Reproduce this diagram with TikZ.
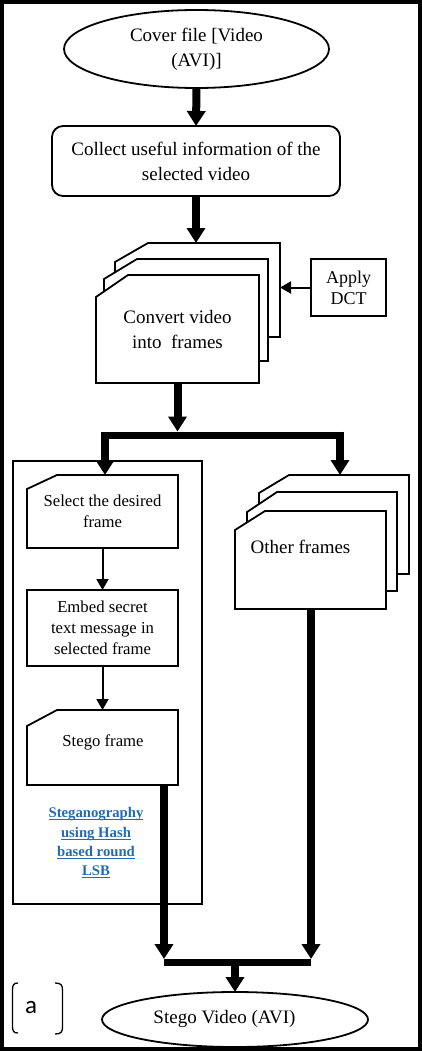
\documentclass[tikz,border=0pt]{standalone}
\usepackage{fontspec}
\setmainfont{Liberation Serif}
\newfontfamily\labelfont{Carlito}
\usetikzlibrary{arrows.meta,shapes.geometric,backgrounds}
\definecolor{linkblue}{RGB}{33,108,178}
\newcommand\cutframe[3]{\begin{pgfonlayer}{background}\draw[boxline,fill=white] ([yshift=-#2pt]#1.north west) -- ([xshift=#3pt]#1.north west) -- (#1.north east) -- (#1.south east) -- (#1.south west) -- cycle;\end{pgfonlayer}}
\newcommand\linkul[1]{\setbox0\hbox{#1}\rlap{\rule[-2.6pt]{\wd0}{1.2pt}}\box0}
\begin{document}
\begin{tikzpicture}[x=1pt,y=-1pt,
 boxline/.style={line width=1.8pt},
 plain/.style={inner sep=0pt, outer sep=0pt, align=center},
 bigfont/.style={font=\fontsize{19}{25}\selectfont},
 smallfont/.style={font=\fontsize{16.7}{21}\selectfont},
 bigarrow/.style={line width=8pt,-{Triangle[width=18pt,length=15pt]}},
 bar/.style={line width=7pt},
 thinarrow/.style={line width=2pt,-{Triangle[width=12pt,length=11pt]}},
]
\useasboundingbox (0,0) rectangle (422,1051);
\begin{pgfonlayer}{background}
\fill[white] (0,0) rectangle (422,1051);
\end{pgfonlayer}

% top
\node[ellipse,draw,boxline,minimum width=265pt,minimum height=78pt,plain,bigfont] (cover) at (196.5,49) {Cover file [Video\\(AVI)]};
\node[draw,boxline,rounded corners=11pt,minimum width=288pt,minimum height=70pt,plain,bigfont] (collect) at (196,161) {Collect useful information of the\\selected video};

% convert stack
\node[plain,minimum width=165pt,minimum height=94pt] (conv3) at (197.5,290) {};
\cutframe{conv3}{19}{33}
\node[plain,minimum width=164pt,minimum height=102pt] (conv2) at (186,310) {};
\cutframe{conv2}{20}{33}
\node[plain,bigfont,minimum width=163pt,minimum height=108pt] (conv) at (177.5,329) {Convert video\\into\ \ frames};
\cutframe{conv}{22}{32}

\node[draw,boxline,plain,font=\fontsize{18}{21}\selectfont,minimum width=75pt,minimum height=57pt] (dct) at (348.5,287.5) {Apply\\DCT};
\draw[thinarrow] (dct.west) -- (conv3.east |- dct.west);

\draw[bigarrow] (cover.south) -- (collect.north);
\draw[bigarrow] (collect.south) -- (collect.south |- conv3.north);

% left container
\node[draw,boxline,plain,minimum width=189pt,minimum height=443pt] (cont) at (107.5,682.5) {};
\node[plain,smallfont,minimum width=151pt,minimum height=73pt] (sel) at (102.5,511.5) {Select the desired\\frame};
\cutframe{sel}{14}{30}
\node[draw,boxline,plain,smallfont,minimum width=151pt,minimum height=76pt] (emb) at (102.5,628) {Embed secret\\text message in\\selected frame};
\node[plain,minimum width=151pt,minimum height=75pt] (stf) at (102.5,747.5) {};
\cutframe{stf}{16}{30}
\node[plain,smallfont,anchor=base] (stft) at (103,746) {Stego frame};
\draw[thinarrow] (sel.south) -- (emb.north);
\draw[thinarrow] (emb.south) -- (stf.north);
\node[plain,font=\fontsize{14.7}{19.3}\selectfont\bfseries,text=linkblue] (hash) at (96,843) {\linkul{Steganography}\\\linkul{using Hash}\\\linkul{based round}\\\linkul{LSB}};

% other frames
\node[plain,minimum width=150pt,minimum height=99pt] (oth3) at (334,524.5) {};
\cutframe{oth3}{18}{30}
\node[plain,minimum width=150pt,minimum height=99pt] (oth2) at (322,541.5) {};
\cutframe{oth2}{20}{30}
\node[plain,minimum width=151pt,minimum height=98pt] (oth) at (310.5,560) {};
\cutframe{oth}{19}{30}
\node[plain,bigfont,anchor=base] (otht) at (300.5,553) {Other frames};

% branch
\coordinate (bj) at (conv.south |- 0,435);
\coordinate (bl) at (105,435);
\coordinate (br) at (340,435);
\draw[bigarrow] (conv.south) -- ([yshift=3.5pt]bj);
\draw[bar] (101,435) -- (344,435);
\draw[bigarrow] ([yshift=3.5pt]bl) -- (bl |- sel.north);
\draw[bigarrow] ([yshift=3.5pt]br) -- (br |- oth3.north);

% bottom
\node[ellipse,draw,boxline,plain,minimum width=266pt,minimum height=55pt] (stego) at (235,1019.5) {};
\node[plain,bigfont,anchor=base] (stegot) at (224.5,1023) {Stego Video (AVI)};
\coordinate (jl) at (164,962.5);
\coordinate (jr) at (311,962.5);
\coordinate (jm) at (stego.north |- jl);
\draw[bigarrow] (jl |- stf.south) -- ([yshift=3.5pt]jl);
\draw[bigarrow] (jr |- oth.south) -- ([yshift=3.5pt]jr);
\draw[bar] (jl) -- (jr);
\draw[bigarrow] ([yshift=-3.5pt]jm) -- (stego.north);

% label
\node[plain,font=\labelfont\fontsize{25}{25}\selectfont,anchor=base] (lbl) at (31,1013) {a};
\draw[line width=1.3pt] (18,983) .. controls (13.5,983) and (12.5,985) .. (12.5,990) -- (12.5,1026) .. controls (12.5,1031) and (13.5,1033) .. (18,1033);
\draw[line width=1.3pt] (55,983) .. controls (61,983) and (62.5,985) .. (62.5,990) -- (62.5,1027) .. controls (62.5,1032) and (61,1034) .. (55,1034);

\draw[line width=4pt] (2,2) rectangle (420,1049);
\end{tikzpicture}
\end{document}
